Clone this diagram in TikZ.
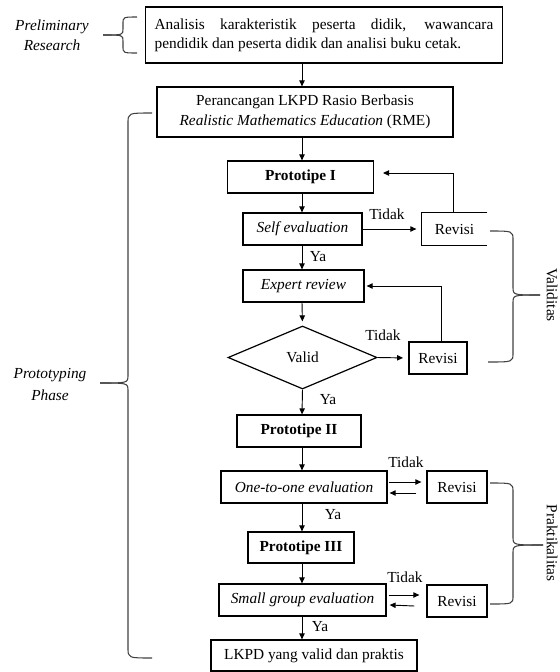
\documentclass[tikz,border=0pt]{standalone}
\usepackage{fontspec}
\setmainfont{Liberation Serif}
\usetikzlibrary{shapes.geometric,arrows.meta,calc}
\begin{document}
\begin{tikzpicture}[x=0.75pt,y=-0.75pt,
  font=\fontsize{11.5}{14}\selectfont,
  box/.style={draw,line width=0.9pt,inner sep=0pt,align=center},
  sz/.style 2 args={minimum width=#1*0.75pt,minimum height=#2*0.75pt},
  arr/.style={line width=0.7pt,-{Triangle[length=4.5pt,width=4pt]}},
  brace/.style={line width=0.8pt,black!75},
  lbl/.style={inner sep=0pt}]
\useasboundingbox (0,0) rectangle (560,672);
\coordinate (spine) at (302,0);

% boxes
\node[box,minimum height=56*0.75pt,inner xsep=7pt,text width=254pt,align=justify] (top) at (324,35)
  {Analisis karakteristik peserta didik, wawancara\linebreak pendidik dan peserta didik dan analisi buku cetak.};
\node[box,sz={296}{50},font=\fontsize{11.5}{15}\selectfont] (rme) at (305,112)
  {Perancangan LKPD Rasio Berbasis\\\textit{Realistic Mathematics Education} (RME)};
\node[box,sz={146}{32}] (p1) at (300.5,177) {\textbf{Prototipe I}};
\node[box,sz={119}{32}] (self) at (302.5,229) {\textit{Self evaluation}};
\node[inner sep=0pt,sz={65}{32}] (rev1) at (454.5,229) {Revisi};
\draw[line width=0.9pt] (rev1.north east) -- (rev1.north west) -- (rev1.south west) -- (rev1.south east);
\node[box,sz={121}{32}] (expert) at (303.5,286) {\textit{Expert review}};
\node[draw,line width=0.9pt,shape=diamond,aspect=2.4,inner sep=0pt,sz={149}{63}] (valid) at (302.5,357.5) {Valid};
\node[box,sz={58}{32}] (rev2) at (438,358) {Revisi};
\node[box,sz={124}{32}] (p2) at (299,431) {\textbf{Prototipe II}};
\node[box,sz={166}{32}] (one) at (304,487) {\textit{One-to-one evaluation}};
\node[box,sz={60}{32}] (rev3) at (457,487) {Revisi};
\node[box,sz={106}{31}] (p3) at (301,547.5) {\textbf{Prototipe III}};
\node[box,sz={167}{32}] (small) at (302.5,600) {\textit{Small group evaluation}};
\node[box,sz={60}{32}] (rev4) at (457,601) {Revisi};
\node[box,sz={206}{31}] (lkpd) at (314,655.5) {LKPD yang valid dan praktis};

% main vertical arrows
\draw[arr] (spine |- top.south) -- (spine |- rme.north);
\draw[arr] (spine |- rme.south) -- (spine |- p1.north);
\draw[arr] (spine |- p1.south) -- (spine |- self.north);
\draw[arr] (spine |- self.south) -- (spine |- expert.north);
\draw[arr,shorten >=3pt] (spine |- expert.south) -- (valid.north);
\draw[arr] (valid.south) -- (spine |- p2.north);
\draw[arr] (spine |- p2.south) -- (spine |- one.north);
\draw[arr] (spine |- one.south) -- (spine |- p3.north);
\draw[arr] (spine |- p3.south) -- (spine |- small.north);
\draw[arr] (spine |- small.south) -- (spine |- lkpd.north);

% Ya labels
\node[lbl] (ya1) at (318,257) {Ya};
\node[lbl] (ya2) at (328,400) {Ya};
\node[lbl] (ya3) at (333,515) {Ya};
\node[lbl] (ya4) at (320,627) {Ya};

% revision loops
\draw[arr,shorten >=4pt] (self.east) -- (rev1.west);
\node[lbl] (t1) at (387,214) {Tidak};
\coordinate (fb1) at (383,173);
\draw[arr] ($(rev1.north)+(-1.5,0)$) |- (fb1);

\draw[arr,shorten >=4pt] (valid.east) -- (rev2.west);
\node[lbl] (t2) at (383,335) {Tidak};
\draw[arr,shorten >=1.5pt] ($(rev2.north)+(3,0)$) |- (expert.east);

\draw[arr] ($(one.east)+(1,-5)$) -- ($(rev3.west)+(-5,-5)$);
\draw[arr] ($(rev3.west)+(-10,6)$) -- ($(one.east)+(2,6)$);
\node[lbl] (t3) at (406,462) {Tidak};

\draw[arr] ($(small.east)+(2,-5)$) -- ($(rev4.west)+(-7,-6)$);
\draw[arr] ($(rev4.west)+(-12,5)$) -- ($(small.east)+(3,5)$);
\node[lbl] (t4) at (405,577) {Tidak};

% left labels and braces
\node[lbl,align=center,font=\fontsize{11.5}{15}\selectfont\itshape] (pre) at (52,35) {Preliminary\\Research};
\draw[brace] (137,17) .. controls (123,17) .. (123,24) -- (123,29) .. controls (123,35) .. (103,35);
\draw[brace] (103,35) .. controls (123,35) .. (123,41) -- (123,46) .. controls (123,53) .. (137,53);

\node[lbl,align=center,font=\fontsize{11.5}{16.5}\selectfont\itshape] (proto) at (50,384) {Prototyping\\Phase};
\draw[brace] (152,113) .. controls (128,113) .. (128,123) -- (128,375) .. controls (128,383) .. (100,383);
\draw[brace] (100,383) .. controls (128,383) .. (128,391) -- (128,648) .. controls (128,658) .. (152,658);

% right braces and labels
\draw[brace] (490,231) .. controls (513,231) .. (513,240) -- (513,287) .. controls (513,295) .. (540,295);
\draw[brace] (540,295) .. controls (513,295) .. (513,303) -- (513,353) .. controls (513,362) .. (488,362);
\node[lbl,rotate=-90] (val) at (552,295) {Validitas};

\draw[brace] (490,483) .. controls (513,483) .. (513,492) -- (513,537) .. controls (513,545) .. (543,545);
\draw[brace] (543,545) .. controls (513,545) .. (513,553) -- (513,596) .. controls (513,604) .. (490,604);
\node[lbl,rotate=-90] (prak) at (552,543) {Praktikalitas};
\end{tikzpicture}
\end{document}
